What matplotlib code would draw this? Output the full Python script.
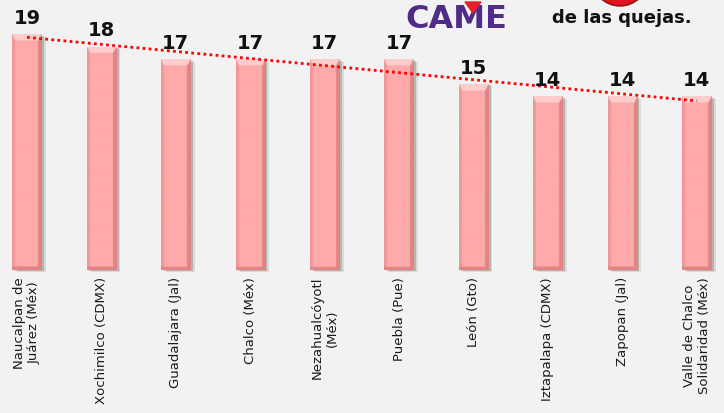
import numpy as np
import matplotlib
matplotlib.use("Agg")
import matplotlib.pyplot as plt
from matplotlib.patches import Polygon, Ellipse

categories = ["Naucalpan de\nJuárez (Méx)", "Xochimilco (CDMX)", "Guadalajara (Jal)",
              "Chalco (Méx)", "Nezahualcóyotl\n(Méx)", "Puebla (Pue)", "León (Gto)",
              "Iztapalapa (CDMX)", "Zapopan (Jal)", "Valle de Chalco\nSolidaridad (Méx)"]
values = [19, 18, 17, 17, 17, 17, 15, 14, 14, 14]

BG = "#f2f2f2"
W, H = 724, 413
fig = plt.figure(figsize=(W / 100, H / 100), dpi=100, facecolor=BG)

base_px = 270.0
ppu = 12.4
x0_px, step_px = 27.0, 74.4
ax = fig.add_axes([0, (H - base_px) / H, 1, base_px / H])
ax.set_facecolor(BG)
ax.set_xlim(-x0_px / step_px, (W - x0_px) / step_px)
ax.set_ylim(0, base_px / ppu)
for s in ax.spines.values():
    s.set_visible(False)
ax.set_yticks([])

x = np.arange(len(values))
bw = 0.39

# shadows
ax.bar(x + 0.06, values, bw, bottom=-0.2, color="#6e6e6e", alpha=0.18, zorder=1, clip_on=False)
ax.bar(x + 0.035, values, bw, bottom=-0.12, color="#6e6e6e", alpha=0.35, zorder=1.5, clip_on=False)

bars = ax.bar(x, values, bw, color="#ffaaaa", zorder=2, clip_on=False)

base = np.array([255, 170, 170]) / 255
dark = np.array([226, 132, 132]) / 255
light = np.array([255, 205, 205]) / 255
for b, v in zip(bars, values):
    bx0, bx1 = b.get_x(), b.get_x() + b.get_width()
    ny, nx = 400, 60
    ys = np.linspace(v, 0, ny)[:, None] * np.ones((1, nx))
    xs = np.linspace(0, 1, nx)[None, :] * np.ones((ny, 1))
    img = np.ones((ny, nx, 3)) * base
    left = xs < 0.09
    right = xs > 0.88
    img[left] = dark * 0.5 + base * 0.5
    img[right] = dark
    tb = 0.5
    dtop = v - ys
    top = (dtop < tb) & (xs > 0.09 * dtop / tb) & (xs < 1 - 0.12 * dtop / tb)
    img[top] = light
    bot = ys < 0.25
    img[bot] = dark
    im = ax.imshow(img, extent=[bx0, bx1, 0, v], aspect="auto", zorder=3,
                   interpolation="bilinear")
    im.set_clip_path(b)
    b.set_facecolor("none")

# value labels
for xi, v in zip(x, values):
    ax.annotate(str(v), (xi, v), xytext=(0, 7.5), textcoords="offset points",
                ha="center", va="baseline", fontsize=14, fontweight="bold",
                color="#111111", zorder=5)

# trend line
coef = np.polyfit(x, values, 1)
ax.plot(x, np.polyval(coef, x), color="#ff0000", lw=2.0, linestyle=(0, (1, 1.2)),
        zorder=4)

ax.set_xticks(x)
ax.set_xticklabels(categories, rotation=90, ha="center", va="top",
                   multialignment="center", fontsize=9.5, color="#1a1a1a")
ax.tick_params(axis="x", length=0, pad=5)

# header decorations
fig.text(405 / W, 1 - 28 / H, "CAME", fontsize=23, fontweight="bold", color="#4f2c86",
         ha="left", va="baseline")
fig.patches.append(Polygon([[465 / W, 1 - 2 / H], [481 / W, 1 - 2 / H], [473 / W, 1 - 13 / H]],
                           closed=True, transform=fig.transFigure, color="#e5202a", zorder=5))
fig.patches.append(Ellipse((620 / W, 1 + 22 / H), 56 / W, 56 / H, transform=fig.transFigure,
                           facecolor="#e0141e", edgecolor="#8a1010", lw=1))
fig.text(552 / W, 1 - 23 / H, "de las quejas.", fontsize=13, fontweight="bold",
         color="#111111", ha="left", va="baseline")

fig.savefig("out.png", dpi=100, facecolor=BG)
